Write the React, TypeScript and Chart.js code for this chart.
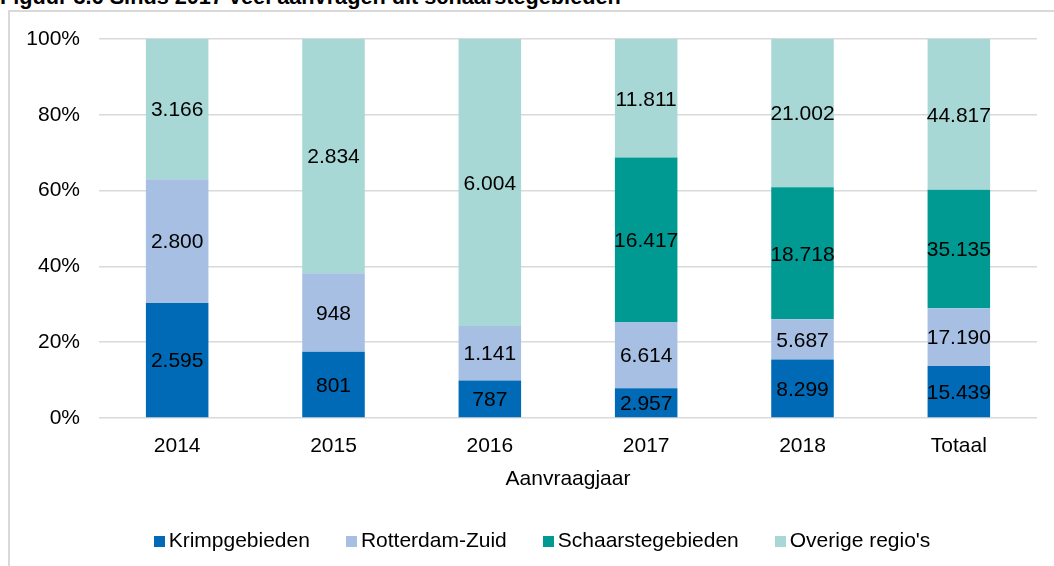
import React, { useEffect, useRef } from 'react';
import { Chart, registerables } from 'chart.js';

Chart.register(...registerables);

const titleText = 'Figuur 3.6 Sinds 2017 veel aanvragen uit schaarstegebieden';
const xAxisTitle = 'Aanvraagjaar';
const categories = ['2014', '2015', '2016', '2017', '2018', 'Totaal'];
const krimpgebieden = [2595, 801, 787, 2957, 8299, 15439];
const rotterdamZuid = [2800, 948, 1141, 6614, 5687, 17190];
const schaarstegebieden = [0, 0, 0, 16417, 18718, 35135];
const overigeRegios = [3166, 2834, 6004, 11811, 21002, 44817];
const seriesNames = ['Krimpgebieden', 'Rotterdam-Zuid', 'Schaarstegebieden', "Overige regio's"];
const seriesColors = ['#006AB6', '#A6BFE3', '#009A93', '#A8D8D5'];
const yTickValues = [0, 20, 40, 60, 80, 100];

const FONT = '"Liberation Sans", Arial, sans-serif';

const rawSeries = [krimpgebieden, rotterdamZuid, schaarstegebieden, overigeRegios];
const totals = categories.map((_, j) => rawSeries.reduce((s, arr) => s + arr[j], 0));

const fmt = (v: number) => String(v).replace(/\B(?=(\d{3})+(?!\d))/g, '.');

const labelPlugin = {
  id: 'segmentLabels',
  afterDatasetsDraw(chart: any) {
    const ctx = chart.ctx;
    ctx.save();
    ctx.font = `21px ${FONT}`;
    ctx.fillStyle = '#000';
    ctx.textAlign = 'center';
    ctx.textBaseline = 'middle';
    chart.data.datasets.forEach((_ds: any, i: number) => {
      const meta = chart.getDatasetMeta(i);
      meta.data.forEach((el: any, j: number) => {
        const raw = rawSeries[i][j];
        if (!raw) return;
        const p = el.getProps(['x', 'y', 'base'], true);
        ctx.fillText(fmt(raw), p.x, (p.y + p.base) / 2 + 1.5);
      });
    });
    ctx.restore();
  },
};

export default function App() {
  const canvasRef = useRef<HTMLCanvasElement | null>(null);

  useEffect(() => {
    const canvas = canvasRef.current;
    if (!canvas) return;
    const chart = new Chart(canvas, {
      type: 'bar',
      data: {
        labels: categories,
        datasets: rawSeries.map((arr, i) => ({
          label: seriesNames[i],
          data: arr.map((v, j) => (v / totals[j]) * 100),
          backgroundColor: seriesColors[i],
          borderWidth: 0,
          categoryPercentage: 1,
          barPercentage: 0.4,
        })),
      },
      options: {
        responsive: false,
        devicePixelRatio: 1,
        animation: false,
        layout: { padding: { left: 8, right: 17, top: 39, bottom: 74 } },
        plugins: {
          legend: { display: false },
          tooltip: { enabled: false },
          title: { display: false },
        },
        scales: {
          x: {
            stacked: true,
            grid: { display: false, drawTicks: false },
            border: { display: false },
            ticks: { font: { family: FONT, size: 21 }, color: '#000', padding: 16 },
            title: {
              display: true,
              text: xAxisTitle,
              font: { family: FONT, size: 21 },
              color: '#000',
              padding: { top: 7, bottom: 0 },
            },
            afterFit: (s: any) => {
              s.height = 74;
            },
          },
          y: {
            stacked: true,
            min: 0,
            max: 100,
            afterBuildTicks: (s: any) => {
              s.ticks = yTickValues.map((v) => ({ value: v }));
            },
            grid: { color: '#D9D9D9', lineWidth: 1.5, drawTicks: false },
            border: { display: false },
            ticks: {
              font: { family: FONT, size: 21 },
              color: '#000',
              padding: 19,
              callback: (v: any) => `${v}%`,
            },
            afterFit: (s: any) => {
              s.width = 91;
            },
          },
        },
      },
      plugins: [labelPlugin],
    });
    return () => chart.destroy();
  }, []);

  return (
    <div
      style={{
        position: 'absolute',
        left: 0,
        top: 0,
        width: 1054,
        height: 566,
        overflow: 'hidden',
        background: '#fff',
        fontFamily: FONT,
      }}
    >
      <div
        style={{
          position: 'absolute',
          left: 8,
          top: 10,
          width: 2000,
          height: 2000,
          borderLeft: '2px solid #D9D9D9',
          borderTop: '2px solid #D9D9D9',
        }}
      />
      <div
        style={{
          position: 'absolute',
          left: 0,
          top: -14,
          fontWeight: 'bold',
          fontSize: 21.7,
          lineHeight: '22px',
          color: '#000',
          whiteSpace: 'nowrap',
        }}
      >
        {titleText}
      </div>
      <canvas
        ref={canvasRef}
        width={1054}
        height={566}
        style={{ position: 'absolute', left: 0, top: 0, width: 1054, height: 566 }}
      />
      <div
        style={{
          position: 'absolute',
          left: 0,
          top: 528,
          width: 1084,
          textAlign: 'center',
          fontSize: 21,
          lineHeight: '24px',
          color: '#000',
          whiteSpace: 'nowrap',
        }}
      >
        {seriesNames.map((name, i) => (
          <span key={name} style={{ marginLeft: i === 0 ? 0 : 36 }}>
            <span
              style={{
                display: 'inline-block',
                width: 11,
                height: 11,
                marginRight: 4,
                background: seriesColors[i],
                verticalAlign: 'baseline',
              }}
            />
            {name}
          </span>
        ))}
      </div>
    </div>
  );
}
